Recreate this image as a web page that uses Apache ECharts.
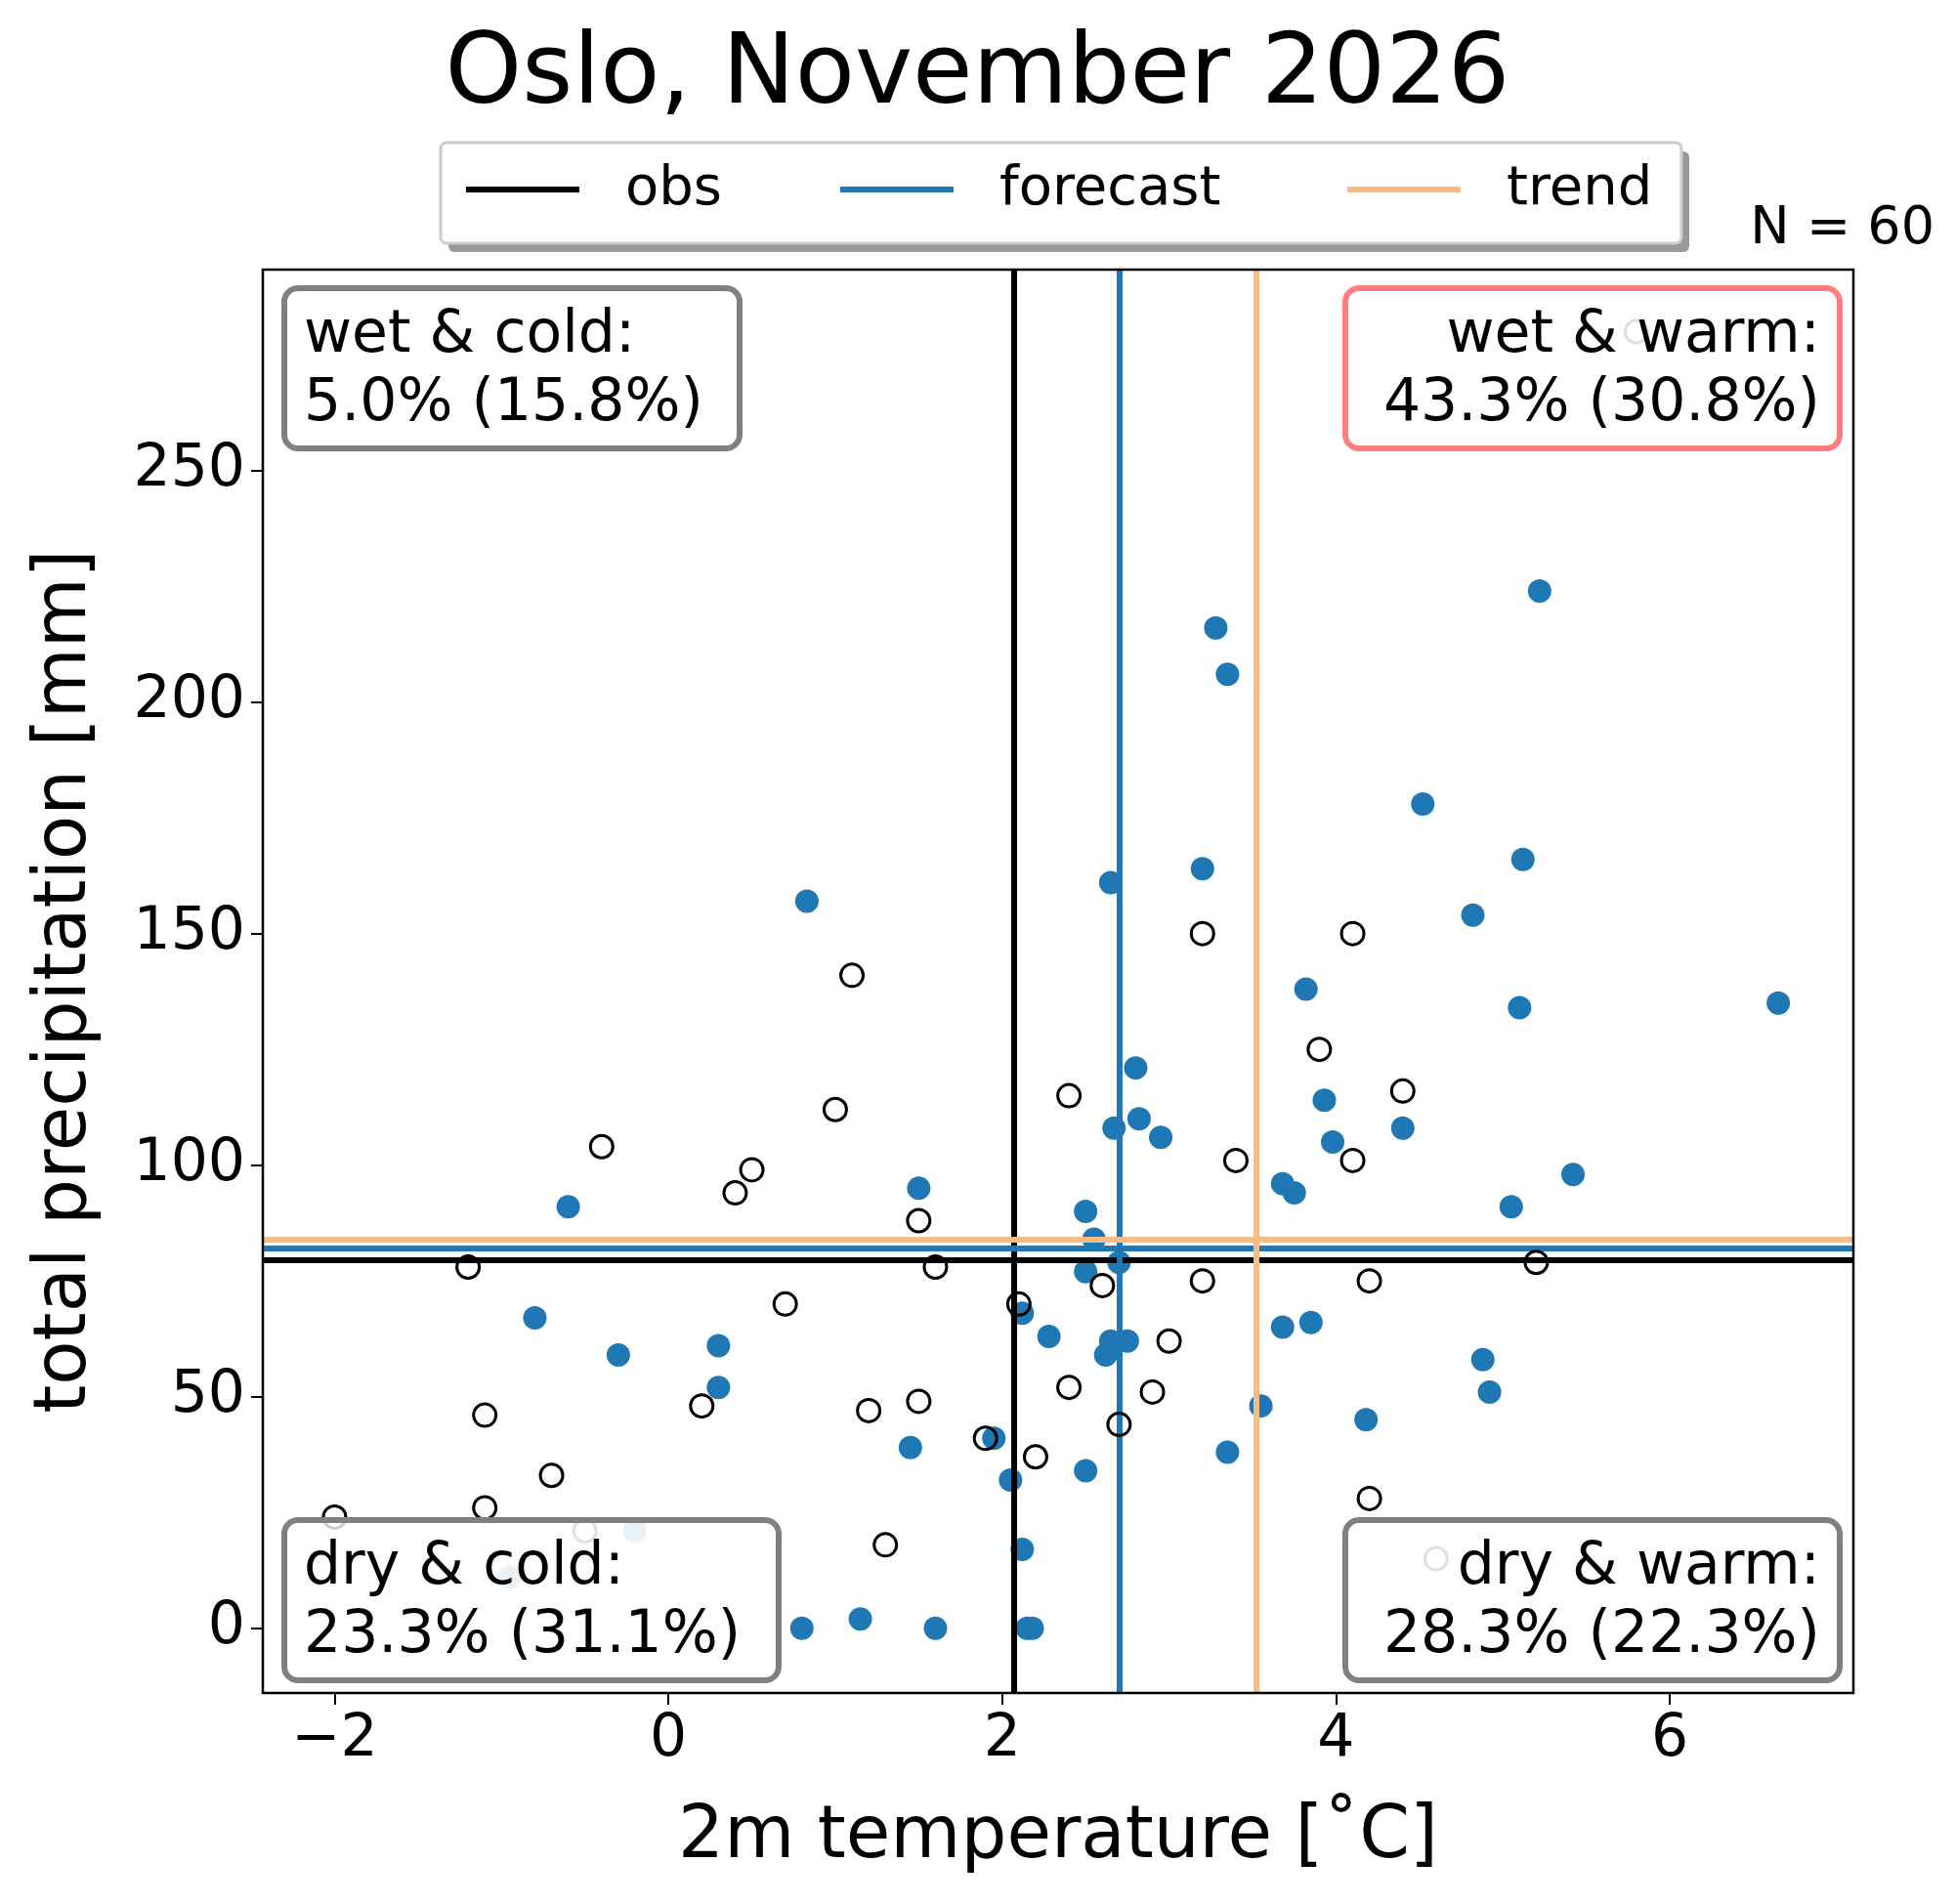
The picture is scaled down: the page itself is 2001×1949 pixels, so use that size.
<!DOCTYPE html><html><head><meta charset="utf-8">
<script src="https://cdn.jsdelivr.net/npm/echarts@6/dist/echarts.min.js"></script>
<style>html,body{margin:0;background:#fff}#c{width:2001px;height:1949px}</style></head><body><div id="c"></div>
<script>
const obsPts=[[-2.0,24],[-1.2,78],[-1.1,46],[-1.1,26],[-0.7,33],[-0.4,104],[0.2,48],[0.4,94],[0.5,99],[0.7,70],[1.0,112],[1.1,141],[1.2,47],[1.3,18],[1.5,88],[1.5,49],[1.6,78],[1.9,41],[2.1,70],[2.2,37],[2.4,115],[2.4,52],[2.6,74],[2.7,44],[2.9,51],[3.0,62],[3.2,150],[3.2,75],[3.4,101],[3.9,125],[4.1,150],[4.1,101],[4.2,75],[4.2,28],[4.4,116],[5.2,79]];
const obsFaded=[[-0.5,21],[4.6,15],[5.8,280]];
const fcPts=[[-0.6,91],[-0.8,67],[-0.3,59],[0.3,61],[0.3,52],[0.83,157],[0.8,0],[1.15,2],[1.45,39],[1.5,95],[1.6,0],[1.95,41],[2.05,32],[2.12,68],[2.12,17],[2.15,0],[2.18,0],[2.28,63],[2.5,90],[2.5,77],[2.5,34],[2.55,84],[2.62,59],[2.65,62],[2.65,161],[2.67,108],[2.7,79],[2.75,62],[2.8,121],[2.82,110],[2.95,106],[3.2,164],[3.28,216],[3.35,206],[3.35,38],[3.55,48],[3.68,96],[3.68,65],[3.75,94],[3.82,138],[3.85,66],[3.93,114],[3.98,105],[4.18,45],[4.4,108],[4.52,178],[4.82,154],[4.88,58],[4.92,51],[5.05,91],[5.1,134],[5.12,166],[5.22,224],[5.42,98],[6.65,135]];
const fcFaded=[[-0.95,11],[-0.2,21]];
const obsMean=[2.07,79.5], fcMean=[2.7,82], trendMean=[3.52,84];
const quadTexts=[["wet & cold:","5.0% (15.8%)"],["wet & warm:","43.3% (30.8%)"],["dry & cold:","23.3% (31.1%)"],["dry & warm:","28.3% (22.3%)"]];
const xTicks=[-2,0,2,4,6], yTicks=[0,50,100,150,200,250];
const F='DejaVu Sans';
const G={l:269,t:276,w:1628,h:1457};
function ml(m,c){return {silent:true,symbol:'none',animation:false,label:{show:false},lineStyle:{color:c,width:6,type:'solid'},data:[{xAxis:m[0]},{yAxis:m[1]}]};}
const ch=echarts.init(document.getElementById('c'));
function box(x,y,w,h,lines,col,align){
 return {type:'group',children:[{type:'rect',shape:{x:x,y:y,width:w,height:h,r:14},style:{fill:'rgba(255,255,255,0.8)',stroke:col,lineWidth:6},z:50},
 {type:'text',z:51,style:{text:lines.join('\n'),x:align==='left'?x+20:x+w-20,y:y+h/2+2,align:align,verticalAlign:'middle',font:'60px '+F,lineHeight:70,fill:'#000'}}]};
}
function lg(name,left){return {left:left,top:166,itemWidth:116,itemHeight:6,padding:0,
 textStyle:{fontFamily:F,fontSize:56,color:'#000',padding:[0,0,0,42]},data:[{name:name,icon:'rect'}]};}
ch.setOption({
 animation:false,
 title:{text:'Oslo, November 2026',left:'center',top:24,textStyle:{fontFamily:F,fontSize:100,fontWeight:'normal',color:'#000'}},
 grid:{left:G.l,top:G.t,width:G.w,height:G.h,containLabel:false,outerBoundsMode:'none'},
 legend:[lg('obs',477),lg('forecast',860),lg('trend',1379)],
 xAxis:{type:'value',min:-2.43,max:7.1,
  axisLine:{onZero:false,lineStyle:{color:'#000',width:2}},splitLine:{show:false},
  axisLabel:{fontFamily:F,fontSize:60,color:'#000',margin:18,customValues:xTicks,formatter:v=>String(v).replace('-','\u2212')},
  axisTick:{customValues:xTicks,length:12,lineStyle:{color:'#000',width:2}},
  name:'2m temperature [˚C]',nameLocation:'middle',nameGap:112,nameTextStyle:{fontFamily:F,fontSize:74,color:'#000'}},
 yAxis:{type:'value',min:-14,max:293.4,
  axisLine:{show:true,onZero:false,lineStyle:{color:'#000',width:2}},splitLine:{show:false},
  axisLabel:{fontFamily:F,fontSize:60,color:'#000',margin:18,customValues:yTicks},
  axisTick:{show:true,customValues:yTicks,length:12,lineStyle:{color:'#000',width:2}},
  name:'total precipitation [mm]',nameLocation:'middle',nameGap:164,nameTextStyle:{fontFamily:F,fontSize:74,color:'#000'}},
 series:[
  {name:'obs',type:'line',data:[],itemStyle:{color:'#000'},lineStyle:{color:'#000'},markLine:ml(obsMean,'#000'),z:3},
  {name:'forecast',type:'line',data:[],itemStyle:{color:'#1f77b4'},lineStyle:{color:'#1f77b4'},markLine:ml(fcMean,'#1f77b4'),z:3},
  {name:'trend',type:'line',data:[],itemStyle:{color:'#f7bb86'},lineStyle:{color:'#f7bb86'},markLine:ml(trendMean,'#f7bb86'),z:3},
  {type:'scatter',data:fcPts,symbolSize:24,itemStyle:{color:'#1f77b4',opacity:1},z:4},
  {type:'scatter',data:fcFaded,symbolSize:24,itemStyle:{color:'#8fbbd9',opacity:1},z:4},
  {type:'scatter',data:obsPts,symbolSize:23,itemStyle:{color:'rgba(0,0,0,0)',borderColor:'#000',borderWidth:3,opacity:1},z:5},
  {type:'scatter',data:obsFaded,symbolSize:23,itemStyle:{color:'rgba(0,0,0,0)',borderColor:'#666',borderWidth:3,opacity:1},z:5}
 ],
 graphic:[
  {type:'rect',z:-1,shape:{x:459,y:155,width:1270,height:103,r:6},style:{fill:'#999'}},
  {type:'rect',z:0,shape:{x:451,y:146,width:1270,height:103,r:6},style:{fill:'#fff',stroke:'#ccc',lineWidth:3}},
  {type:'rect',z:40,silent:true,shape:{x:G.l,y:G.t,width:G.w,height:G.h},style:{fill:'none',stroke:'#000',lineWidth:2.5}},
  {type:'text',style:{text:'N = 60',x:1980,y:235,align:'right',verticalAlign:'middle',font:'54px '+F,fill:'#000'}},
  box(291,295,466,164,quadTexts[0],'#808080','left'),
  box(1377,295,506,164,quadTexts[1],'#ff7f7f','right'),
  box(291,1556,506,164,quadTexts[2],'#808080','left'),
  box(1377,1556,506,164,quadTexts[3],'#808080','right')
 ]
});
</script></body></html>
